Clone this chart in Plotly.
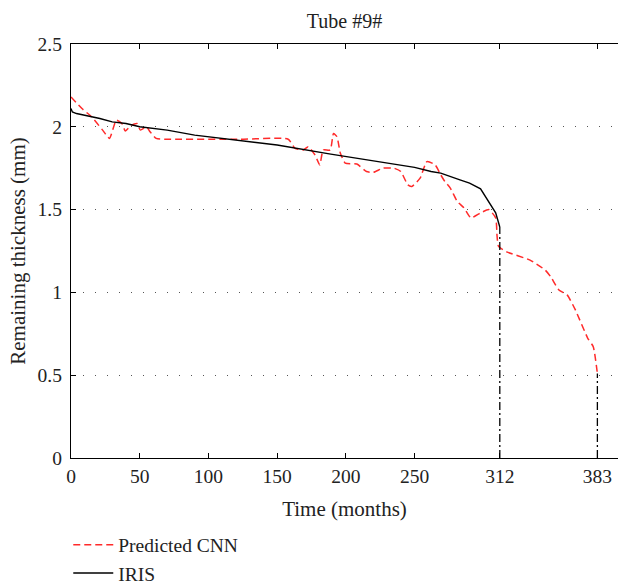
import plotly.graph_objects as go

# IRIS measurements
iris_x = [0, 1, 4, 10, 21, 30, 40, 50, 70, 90, 116, 124, 150, 189, 200, 240, 250, 262, 269, 283, 290, 298, 303, 309, 312]
iris_y = [2.11, 2.09, 2.08, 2.07, 2.05, 2.03, 2.02, 2.00, 1.98, 1.95, 1.923, 1.915, 1.89, 1.835, 1.82, 1.765, 1.755, 1.73, 1.72, 1.68, 1.66, 1.625, 1.56, 1.48, 1.395]

# Predicted CNN
cnn_x = [0, 8, 15, 23, 28, 33, 37, 39.5, 44, 48, 50.5, 55, 57.5, 62, 70, 123, 158, 163, 169, 172.6, 177.5, 181, 183.5,
         188.6, 191, 193.5, 196, 199.6, 208, 215, 220, 227, 235, 240, 245, 248, 254, 259, 265, 269, 272, 276, 281, 286,
         291, 298, 304, 309, 310, 311, 317, 334, 345, 349, 355, 361, 367, 376, 380, 383]
cnn_y = [2.18, 2.11, 2.06, 1.98, 1.93, 2.04, 2.02, 1.975, 2.01, 2.02, 1.98, 2.0, 1.97, 1.93, 1.925, 1.925, 1.925, 1.87,
         1.86, 1.88, 1.83, 1.77, 1.86, 1.86, 1.96, 1.94, 1.84, 1.78, 1.775, 1.73, 1.725, 1.75, 1.75, 1.73, 1.65, 1.64,
         1.69, 1.79, 1.77, 1.71, 1.67, 1.63, 1.55, 1.51, 1.45, 1.48, 1.50, 1.45, 1.34, 1.28, 1.245, 1.195, 1.135, 1.095,
         1.015, 0.985, 0.894, 0.723, 0.672, 0.51]

# end-of-life markers
eol_iris = (312, 1.395)
eol_cnn = (383, 0.51)

x_ticks = [0, 50, 100, 150, 200, 250, 312, 383]
y_ticks = [0, 0.5, 1, 1.5, 2, 2.5]
y_ticklabels = ["0", "0.5", "1", "1.5", "2", "2.5"]

FONT = "Liberation Serif"

fig = go.Figure()
fig.add_trace(go.Scatter(x=cnn_x, y=cnn_y, mode="lines", name="Predicted CNN",
                         line=dict(color="#ff2a2a", width=1.5, dash="7px,4px", shape="spline", smoothing=0.5)))
fig.add_trace(go.Scatter(x=iris_x, y=iris_y, mode="lines", name="IRIS",
                         line=dict(color="black", width=1.4)))
for ex, ey in (eol_iris, eol_cnn):
    fig.add_trace(go.Scatter(x=[ex, ex], y=[0, ey], mode="lines", showlegend=False,
                             line=dict(color="black", width=1.3, dash="8px,3px,2px,3px")))

fig.update_layout(
    width=618, height=584,
    margin=dict(l=71, r=0, t=44, b=126, autoexpand=False),
    paper_bgcolor="white", plot_bgcolor="white",
    font=dict(family=FONT, size=19.5, color="#222"),
    title=dict(text="Tube #9#", x=0.5, xref="paper", y=1, yref="paper", yanchor="bottom",
               pad=dict(b=16), font=dict(size=20)),
    showlegend=True,
    legend=dict(orientation="v", x=-0.005, xanchor="left", y=-0.163, yanchor="top",
                font=dict(size=19.5), bgcolor="rgba(0,0,0,0)", itemwidth=40),
)
fig.update_xaxes(range=[0, 398], tickvals=x_ticks, ticktext=[str(v) for v in x_ticks],
                 showline=True, linecolor="black", linewidth=1.3, mirror="ticks",
                 ticks="inside", ticklen=5, tickcolor="black", showgrid=False, zeroline=False,
                 ticklabelstandoff=0, automargin=False,
                 title=dict(text="Time (months)", standoff=15, font=dict(size=21)))
fig.update_yaxes(range=[0, 2.5], tickvals=y_ticks, ticktext=y_ticklabels,
                 showline=True, linecolor="black", linewidth=1.3,
                 ticks="inside", ticklen=5, tickcolor="black", zeroline=False,
                 ticklabelstandoff=4, automargin=False,
                 showgrid=True, gridcolor="#555", gridwidth=1.3, griddash="1.3px,10.7px",
                 title=dict(text="Remaining thickness (mm)", standoff=6, font=dict(size=21)))

fig.write_html("out.html")
